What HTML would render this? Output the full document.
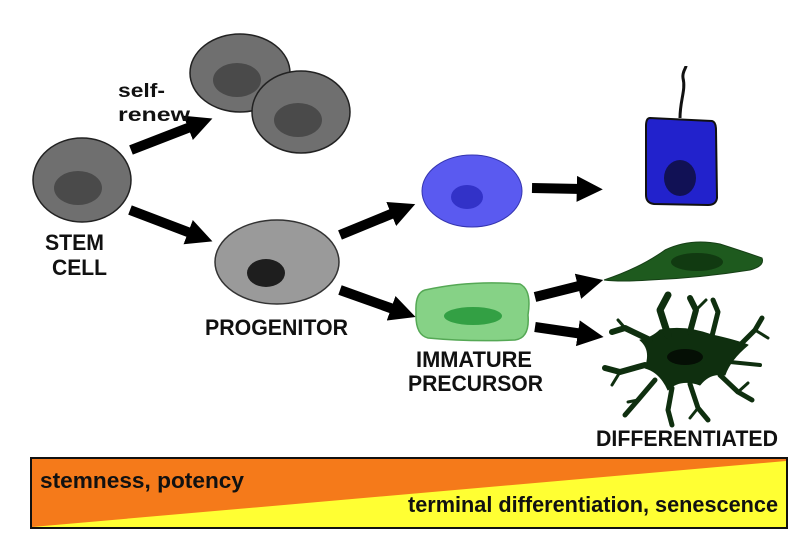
<!DOCTYPE html>
<html><head><meta charset="utf-8"><style>
html,body{margin:0;padding:0;background:#fff;width:812px;height:552px;overflow:hidden}
text{font-family:"Liberation Sans",sans-serif;font-weight:bold;fill:#111}
</style></head><body>
<svg width="812" height="552" viewBox="0 0 812 552" xmlns="http://www.w3.org/2000/svg">
<defs>
<marker id="ah" viewBox="0 0 10 10" refX="2" refY="5" markerWidth="2.6" markerHeight="2.6" orient="auto"><path d="M0,0 L10,5 L0,10 z" fill="#000"/></marker>
</defs>
<ellipse cx="240" cy="73" rx="50" ry="39" fill="#6f6f6f" stroke="#222" stroke-width="1.5"/>
<ellipse cx="237" cy="80" rx="24" ry="17" fill="#4a4a4a"/>
<ellipse cx="301" cy="112" rx="49" ry="41" fill="#6f6f6f" stroke="#222" stroke-width="1.5"/>
<ellipse cx="298" cy="120" rx="24" ry="17" fill="#4a4a4a"/>
<ellipse cx="82" cy="180" rx="49" ry="42" fill="#6f6f6f" stroke="#222" stroke-width="1.5"/>
<ellipse cx="78" cy="188" rx="24" ry="17" fill="#4a4a4a"/>
<ellipse cx="277" cy="262" rx="62" ry="42" fill="#9a9a9a" stroke="#333" stroke-width="1.5"/>
<ellipse cx="266" cy="273" rx="19" ry="14" fill="#1e1e1e"/>
<ellipse cx="472" cy="191" rx="50" ry="36" fill="#5a5af0" stroke="#3535b0" stroke-width="1"/>
<ellipse cx="467" cy="197" rx="16" ry="12" fill="#3232c8"/>
<path d="M680,118 C680,100 686,90 683,78 C682,72 686,68 686,66" stroke="#111" stroke-width="3" fill="none"/>
<path d="M650,118 L712,121 Q716,122 716,130 L717,198 Q716,205 708,205 L654,204 Q646,203 646,195 L646,126 Q646,118 650,118 z" fill="#2222cc" stroke="#111" stroke-width="2"/>
<ellipse cx="680" cy="178" rx="16" ry="18" fill="#111155"/>
<path d="M425,290 Q470,280 520,284 Q532,290 528,315 Q530,338 515,340 Q470,342 428,338 Q415,335 416,312 Q415,293 425,290 z" fill="#86d286" stroke="#55a855" stroke-width="1.5"/>
<ellipse cx="473" cy="316" rx="29" ry="9" fill="#33a044"/>
<path d="M604,280 Q640,268 665,250 Q690,238 720,244 Q745,252 762,258 Q765,266 750,270 Q700,278 650,280 Q620,282 604,280 z" fill="#1e5a1e" stroke="#163f16" stroke-width="1"/>
<ellipse cx="697" cy="262" rx="26" ry="9" fill="#113a11"/>
<g fill="#0f2f0f" stroke="#0f2f0f" stroke-linecap="round" stroke-linejoin="round">
<path d="M660,330 Q685,325 712,335 Q735,340 748,345 Q730,360 725,375 Q710,372 700,385 Q680,378 668,390 Q660,372 645,368 Q652,350 640,340 Q652,338 660,330 z"/>
<g fill="none">
<path d="M668,335 L660,310 L668,295" stroke-width="7"/>
<path d="M690,332 L696,310 L690,298" stroke-width="6"/>
<path d="M696,310 L706,300" stroke-width="3"/>
<path d="M712,336 L718,312 L713,300" stroke-width="5"/>
<path d="M740,345 L755,330 L762,318" stroke-width="5"/>
<path d="M755,330 L768,338" stroke-width="3"/>
<path d="M650,340 L625,328 L612,332" stroke-width="6"/>
<path d="M625,328 L618,320" stroke-width="3"/>
<path d="M645,365 L620,372 L605,368" stroke-width="6"/>
<path d="M620,372 L612,385" stroke-width="3"/>
<path d="M655,380 L638,400 L625,415" stroke-width="5"/>
<path d="M638,400 L628,402" stroke-width="3"/>
<path d="M672,388 L668,410 L672,425" stroke-width="5"/>
<path d="M690,384 L698,408 L708,420" stroke-width="5"/>
<path d="M698,408 L690,418" stroke-width="3"/>
<path d="M720,375 L738,392 L752,400" stroke-width="5"/>
<path d="M738,392 L748,383" stroke-width="3"/>
<path d="M730,362 L760,365" stroke-width="4"/>
</g>
</g>
<ellipse cx="685" cy="357" rx="18" ry="8" fill="#050f05"/>
<g stroke="#000" stroke-width="10" marker-end="url(#ah)">
<line x1="131" y1="150" x2="193" y2="126"/>
<line x1="130" y1="210" x2="193" y2="234"/>
<line x1="340" y1="235" x2="396" y2="212"/>
<line x1="340" y1="290" x2="396" y2="310"/>
<line x1="532" y1="188" x2="582" y2="189"/>
<line x1="535" y1="297" x2="583" y2="285"/>
<line x1="535" y1="327" x2="583" y2="334"/>
</g>
<g font-size="19">
<text x="118" y="97" textLength="47" lengthAdjust="spacingAndGlyphs">self-</text>
<text x="118" y="121" textLength="72" lengthAdjust="spacingAndGlyphs">renew</text>
</g>
<g font-size="22">
<text x="45" y="250" textLength="59" lengthAdjust="spacingAndGlyphs">STEM</text>
<text x="52" y="275" textLength="55" lengthAdjust="spacingAndGlyphs">CELL</text>
<text x="205" y="335" textLength="143" lengthAdjust="spacingAndGlyphs">PROGENITOR</text>
<text x="416" y="367" textLength="116" lengthAdjust="spacingAndGlyphs">IMMATURE</text>
<text x="408" y="391" textLength="135" lengthAdjust="spacingAndGlyphs">PRECURSOR</text>
<text x="596" y="446" textLength="182" lengthAdjust="spacingAndGlyphs">DIFFERENTIATED</text>
</g>
<rect x="31" y="458" width="756" height="70" fill="#ffff33"/>
<polygon points="32,459 786,459 786,461 32,527" fill="#f57a1a"/>
<rect x="31" y="458" width="756" height="70" fill="none" stroke="#111" stroke-width="2"/>
<text x="40" y="488" font-size="22" textLength="204" lengthAdjust="spacingAndGlyphs">stemness, potency</text>
<text x="408" y="512" font-size="22" textLength="370" lengthAdjust="spacingAndGlyphs">terminal differentiation, senescence</text>
</svg>
</body></html>
